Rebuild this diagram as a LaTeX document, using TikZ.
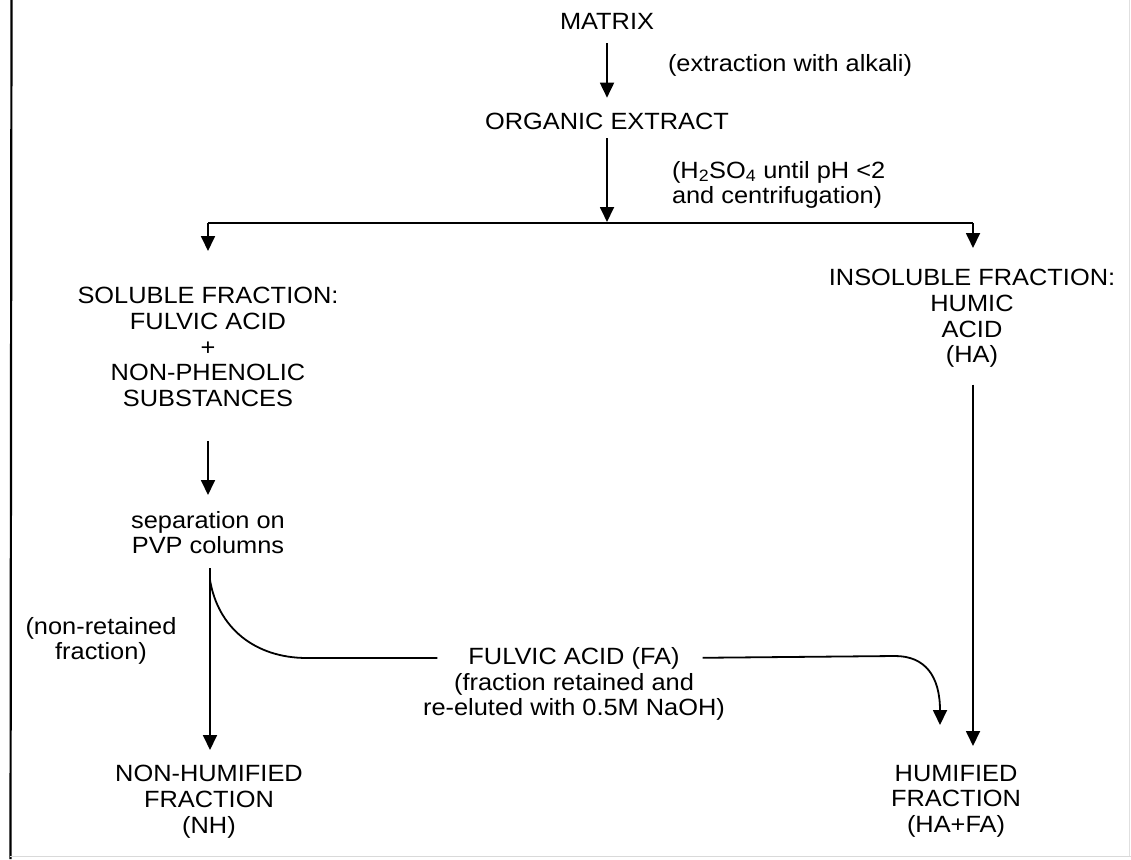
\documentclass[tikz,border=0pt]{standalone}
\usepackage{fontspec}
\setmainfont{Liberation Sans}[FakeStretch=1.08]
\usetikzlibrary{arrows.meta}
\begin{document}
\begin{tikzpicture}[x=1pt,y=-1pt,
  lbl/.style={font=\fontsize{23.5}{25.8}\selectfont, inner sep=0pt, outer sep=0pt, align=center},
  ln/.style={line width=1.8pt},
  arr/.style={ln, -{Triangle[length=15pt,width=14pt]}}]
\useasboundingbox (0,0) rectangle (1131,859);
% frame remnants
\draw[line width=2.2pt] (11.5,0) -- (10.5,859);
\draw[black!15, line width=1pt] (10,856) -- (1131,856);
\draw[black!12, line width=1pt] (1129,0) -- (1129,856);
% nodes
\node[lbl] (matrix) at (607,21) {MATRIX};
\node[lbl, anchor=west] (alk) at (668,65) {(extraction with alkali)};
\node[lbl] (org) at (607,121) {ORGANIC EXTRACT};
\node[lbl, anchor=north west, align=left] (acid) at (672,161)
  {(H\textsubscript{2}SO\textsubscript{4} until pH <2\\and centrifugation)};
\node[lbl, anchor=north] (sol) at (208,287)
  {SOLUBLE FRACTION:\\FULVIC ACID\\+\\NON-PHENOLIC\\SUBSTANCES};
\node[lbl, anchor=north] (insol) at (972,269)
  {INSOLUBLE FRACTION:\\HUMIC\\ACID\\(HA)};
\node[lbl, anchor=north] (sep) at (208,511) {separation on\\PVP columns};
\node[lbl, anchor=north] (nonret) at (101,617) {(non-retained\\fraction)};
\node[lbl] (fa) at (574,658) {FULVIC ACID (FA)};
\node[lbl, anchor=north] (fanote) at (574,673) {(fraction retained and\\re-eluted with 0.5M NaOH)};
\node[lbl, anchor=north] (nh) at (209,765) {NON-HUMIFIED\\FRACTION\\(NH)};
\node[lbl, anchor=north] (hum) at (956,765) {HUMIFIED\\FRACTION\\(HA+FA)};
% junction coordinates
\coordinate (j) at (607,222);
\coordinate (jl) at (208,223);
\coordinate (jr) at (973,223);
\coordinate (br) at (210,580);
\coordinate (faIn) at (940,725);
% connectors
\draw[arr, shorten <=14pt, shorten >=15pt] (matrix) -- (org);
\draw[arr, shorten <=9pt] (org) -- (j);
\draw[ln] (jl) -- (jr);
\draw[arr, shorten >=36pt] (jl) -- (sol.north);
\draw[arr, shorten >=21pt] (jr) -- (insol.north -| jr);
\draw[arr, shorten <=34pt, shorten >=16pt] (sol.south) -- (sep.north);
\draw[arr, shorten <=14pt, shorten >=15pt] (sep.south -| br) -- (nh.north -| br);
\draw[ln, shorten >=31pt] (br) .. controls (218,628) and (255,658) .. (307,658) -- (fa.west);
\draw[arr, shorten <=23pt] (fa.east) -- (895,656) .. controls (925,656) and (940,676) .. (faIn);
\draw[arr, shorten <=17pt, shorten >=19pt] (insol.south -| jr) -- (hum.north -| jr);
\end{tikzpicture}
\end{document}
